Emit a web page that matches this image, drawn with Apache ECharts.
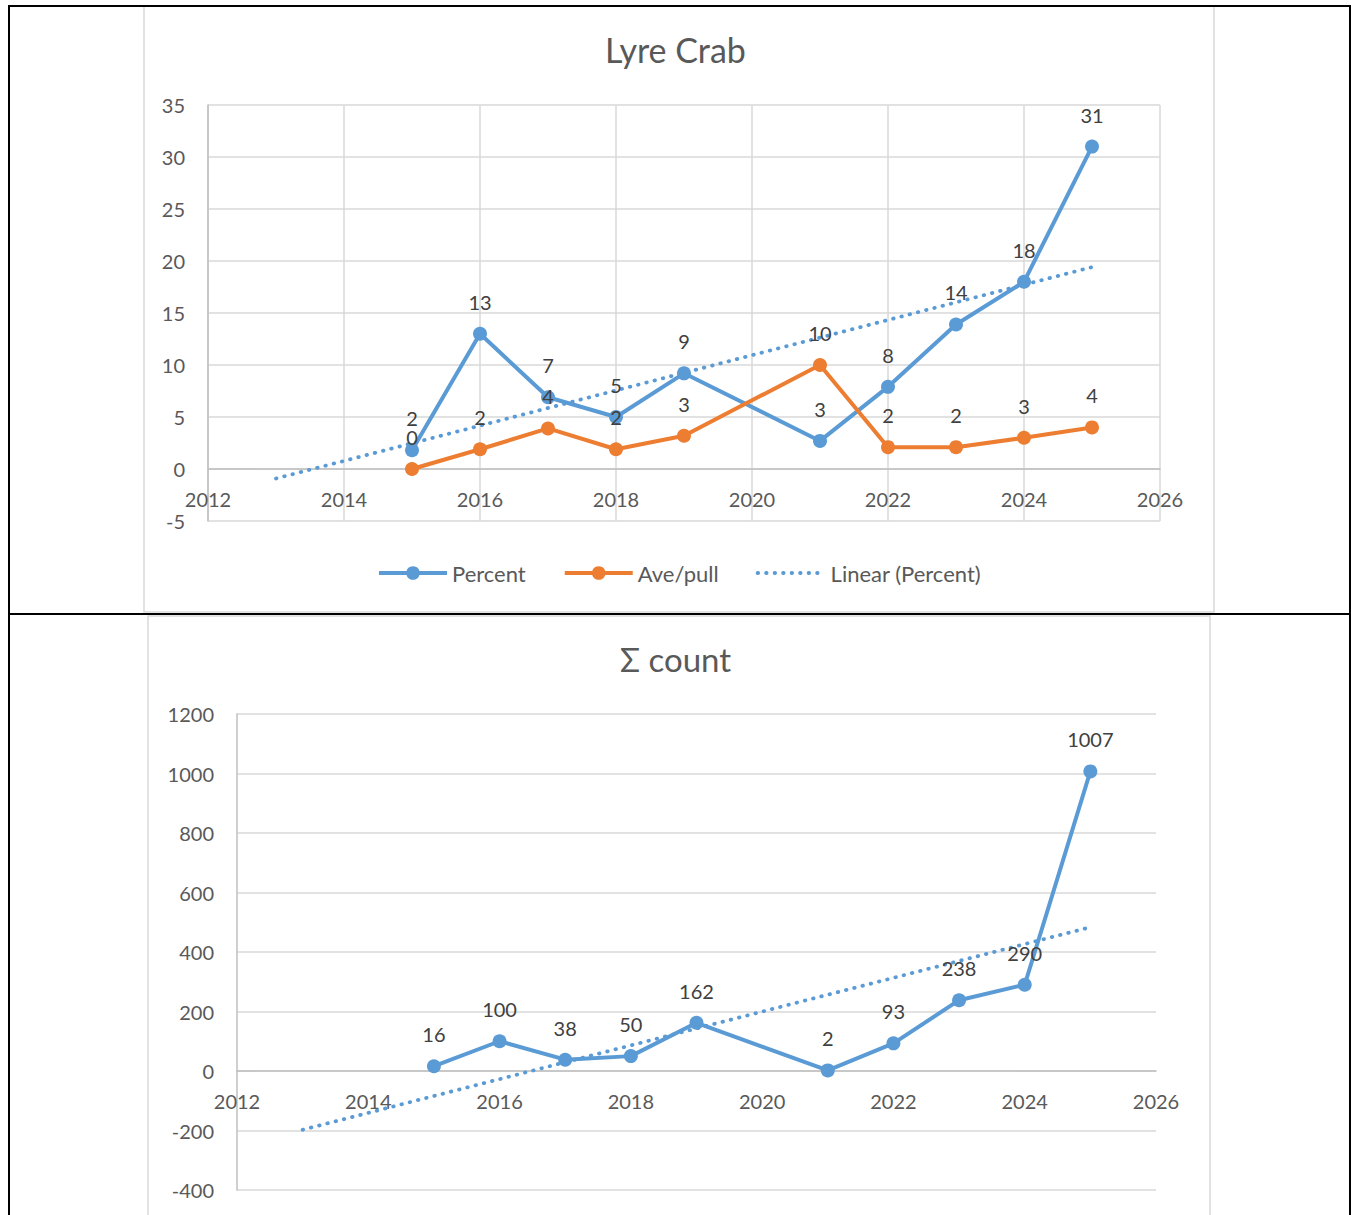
<!DOCTYPE html>
<html><head><meta charset="utf-8">
<script src="https://cdn.jsdelivr.net/npm/echarts@6/dist/echarts.min.js"></script>
<style>html,body{margin:0;padding:0;background:#fff;} #c{width:1351px;height:1215px;}</style>
</head><body><div id="c"></div>
<script>
// ---- data ----
const years = [2015, 2016, 2017, 2018, 2019, 2021, 2022, 2023, 2024, 2025];
const percent = [1.8, 13, 6.9, 5, 9.2, 2.7, 7.9, 13.9, 18, 31];
const avePull = [0, 1.9, 3.9, 1.9, 3.2, 10, 2.1, 2.1, 3, 4];
const sigmaCount = [16, 100, 38, 50, 162, 2, 93, 238, 290, 1007];
const trendBackward = 2; // Excel trendline forecast backward (periods)
const titleTop = 'Lyre Crab';
const titleBottom = 'Σ count';
const legendNames = ['Percent', 'Ave/pull', 'Linear (Percent)'];
const xRange = [2012, 2026, 2];
const yRangeTop = [-5, 35, 5];
const yRangeBottom = [-400, 1200, 200];

// least-squares linear trendline (as Excel computes it)
function linearTrend(xs, ys, back) {
  const n = xs.length;
  const mx = xs.reduce((a, b) => a + b, 0) / n;
  const my = ys.reduce((a, b) => a + b, 0) / n;
  let sxy = 0, sxx = 0;
  for (let i = 0; i < n; i++) { sxy += (xs[i] - mx) * (ys[i] - my); sxx += (xs[i] - mx) ** 2; }
  const k = sxy / sxx;
  const x0 = xs[0] - back, x1 = xs[n - 1];
  return [[x0, my + k * (x0 - mx)], [x1, my + k * (x1 - mx)]];
}
const zip = (xs, ys) => xs.map((x, i) => [x, ys[i]]);

const FONT = 'Lato, "Noto Sans", sans-serif';
const BLUE = '#5B9BD5', ORANGE = '#ED7D31';
const GRID = '#D9D9D9', AXIS = '#BFBFBF', TXT = '#595959', LBL = '#404040';
const DOTS = [0.5, 8];

const grids = [
  { left: 208, top: 105, width: 952, height: 416, outerBoundsMode: 'none' },
  { left: 237, top: 714, width: 919, height: 476, outerBoundsMode: 'none' }
];

const chart = echarts.init(document.getElementById('c'), null, { renderer: 'svg' });

function dataLabel() {
  return { show: true, position: 'top', distance: 15, fontSize: 20, fontFamily: FONT, color: LBL,
           formatter: p => String(Math.round(p.value[1])) };
}
function lineSeries(name, data, color, xi) {
  return { name, type: 'line', xAxisIndex: xi, yAxisIndex: xi, data,
    symbol: 'circle', symbolSize: 14, itemStyle: { color },
    lineStyle: { color, width: 4 }, label: dataLabel(), emphasis: { disabled: true } };
}
function trendSeries(name, data, xi) {
  return { name, type: 'line', xAxisIndex: xi, yAxisIndex: xi, data, symbol: 'none', silent: true,
    itemStyle: { color: BLUE },
    lineStyle: { color: BLUE, width: 3.8, type: DOTS, cap: 'round' }, z: 3 };
}
// horizontal axis crosses the vertical axis at 0 (labels sit next to it, as in Excel)
function xAxis(gi, split, yr) {
  const off = grids[gi].height * (0 - yr[0]) / (yr[1] - yr[0]);
  return { type: 'value', gridIndex: gi, min: xRange[0], max: xRange[1], interval: xRange[2],
    position: 'bottom', offset: -off,
    axisLine: { show: true, onZero: false, lineStyle: { color: AXIS, width: 1.5 } },
    axisTick: { show: false },
    axisLabel: { fontSize: 20, fontFamily: FONT, color: TXT, margin: 20, formatter: v => String(v) },
    splitLine: { show: split, lineStyle: { color: GRID, width: 1.5 } } };
}
function yAxis(gi, yr) {
  return { type: 'value', gridIndex: gi, min: yr[0], max: yr[1], interval: yr[2],
    axisLine: { show: true, onZero: false, lineStyle: { color: AXIS, width: 1.5 } },
    axisTick: { show: false },
    axisLabel: { fontSize: 20, fontFamily: FONT, color: TXT, margin: 23, formatter: v => String(v) },
    splitLine: { show: true, lineStyle: { color: GRID, width: 1.5 } } };
}

chart.setOption({
  animation: false,
  backgroundColor: '#fff',
  title: [
    { text: titleTop, left: 'center', top: 32, padding: [0, 0, 0, 14],
      textStyle: { fontSize: 34, fontWeight: 'normal', fontFamily: FONT, color: TXT } },
    { text: titleBottom, left: 'center', top: 642, padding: [0, 0, 0, 10],
      textStyle: { fontSize: 33, fontWeight: 'normal', fontFamily: FONT, color: TXT } }
  ],
  legend: {
    data: [
      { name: legendNames[0] },
      { name: legendNames[1] },
      { name: legendNames[2], itemStyle: { color: 'rgba(0,0,0,0)', opacity: 0, borderWidth: 0 },
        lineStyle: { width: 3.8, type: DOTS, cap: 'round' } }
    ],
    left: 377, top: 562, padding: 0, itemWidth: 68, itemHeight: 17, itemGap: 37,
    lineStyle: { width: 4 },
    textStyle: { fontSize: 22, fontFamily: FONT, color: TXT }, selectedMode: false
  },
  grid: grids,
  xAxis: [xAxis(0, true, yRangeTop), xAxis(1, false, yRangeBottom)],
  yAxis: [yAxis(0, yRangeTop), yAxis(1, yRangeBottom)],
  series: [
    lineSeries('Percent', zip(years, percent), BLUE, 0),
    lineSeries('Ave/pull', zip(years, avePull), ORANGE, 0),
    trendSeries('Linear (Percent)', linearTrend(years, percent, trendBackward), 0),
    lineSeries('Σ count', zip(years, sigmaCount), BLUE, 1),
    trendSeries('Linear (Σ count)', linearTrend(years, sigmaCount, trendBackward), 1)
  ],
  graphic: [
    { type: 'rect', shape: { x: 144, y: 6, width: 1070, height: 606 }, style: { fill: 'none', stroke: GRID, lineWidth: 1.5 }, z: -10, silent: true },
    { type: 'rect', shape: { x: 148, y: 616, width: 1062, height: 620 }, style: { fill: 'none', stroke: GRID, lineWidth: 1.5 }, z: -10, silent: true },
    { type: 'line', shape: { x1: 8, y1: 6, x2: 1351, y2: 6 }, style: { stroke: '#000', lineWidth: 2 }, silent: true },
    { type: 'line', shape: { x1: 8, y1: 614, x2: 1351, y2: 614 }, style: { stroke: '#000', lineWidth: 2 }, silent: true },
    { type: 'line', shape: { x1: 9, y1: 5, x2: 9, y2: 1215 }, style: { stroke: '#000', lineWidth: 2 }, silent: true },
    { type: 'line', shape: { x1: 1350, y1: 5, x2: 1350, y2: 1215 }, style: { stroke: '#000', lineWidth: 2 }, silent: true }
  ]
});
</script></body></html>
